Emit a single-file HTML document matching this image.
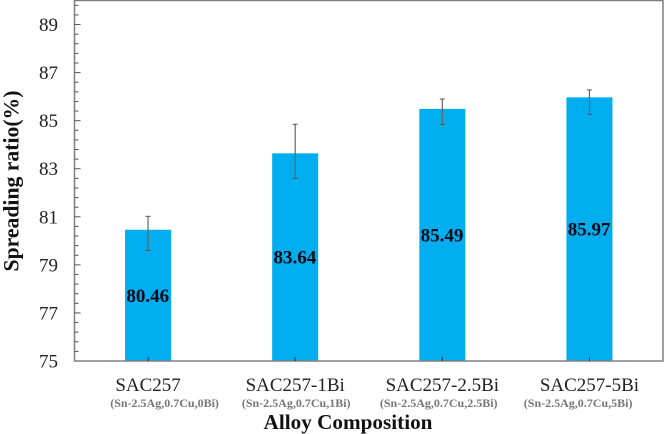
<!DOCTYPE html>
<html>
<head>
<meta charset="utf-8">
<style>
html,body{margin:0;padding:0;background:#fff;width:664px;height:434px;overflow:hidden}
svg{display:block;font-family:"Liberation Serif",serif}
</style>
</head>
<body>
<svg id="chart" width="664" height="434" viewBox="0 0 664 434" xmlns="http://www.w3.org/2000/svg"></svg>
<script>
const categories = ["SAC257", "SAC257-1Bi", "SAC257-2.5Bi", "SAC257-5Bi"];
const compositions = ["(Sn-2.5Ag,0.7Cu,0Bi)", "(Sn-2.5Ag,0.7Cu,1Bi)", "(Sn-2.5Ag,0.7Cu,2.5Bi)", "(Sn-2.5Ag,0.7Cu,5Bi)"];
const values = [80.46, 83.64, 85.49, 85.97];
const valueLabels = ["80.46", "83.64", "85.49", "85.97"];
const errorHigh = [81.02, 84.85, 85.9, 86.28];
const errorLow = [79.6, 82.6, 84.84, 85.27];
const yTickLabels = [75, 77, 79, 81, 83, 85, 87, 89];
const yMin = 75;
const yMax = 90;
const yMinorStep = 0.4;

const L = 74.5, R = 663, T = 0.5, B = 361;
const svg = document.getElementById('chart');
const NS = 'http://www.w3.org/2000/svg';
const yScale = v => B - (v - yMin) / (yMax - yMin) * (B - T);
const band = (R - L) / categories.length;
const xScale = i => L + band * (i + 0.5);
const barW = 46;
const subLabelShift = i => (i === 0 ? 16.5 : i === 1 ? 1 : i === 2 ? -3.6 : -11.3);

function add(tag, attrs, text) {
  const el = document.createElementNS(NS, tag);
  for (const k in attrs) el.setAttribute(k, attrs[k]);
  if (text !== undefined) el.textContent = text;
  svg.appendChild(el);
  return el;
}

categories.forEach((c, i) => {
  const bar = add('rect', {x: xScale(i) - barW / 2, y: yScale(values[i]), width: barW, height: B - yScale(values[i]), fill: '#00aeef'});
  
  
});

const frame = add('rect', {x: L, y: T, width: R - L, height: B - T, fill: 'none', stroke: '#808080', 'stroke-width': 1.5});



const minorCount = Math.round((yMax - yMin) / yMinorStep);
for (let n = 1; n < minorCount; n++) {
  const v = yMin + n * yMinorStep;
  const isMajor = n % 5 === 0;
  const tick = add('line', {x1: L, x2: L + (isMajor ? 6 : 4), y1: yScale(v), y2: yScale(v), stroke: '#555', 'stroke-width': 1});
  
  
}

yTickLabels.forEach(v => {
  const t = add('text', {x: 58, y: yScale(v) + 6.5, 'text-anchor': 'end', 'font-size': 19, fill: '#222'}, String(v));
  
  
});

categories.forEach((c, i) => {
  const x = xScale(i);
  const tick = add('line', {x1: x, x2: x, y1: B, y2: B - 4, stroke: '#333', 'stroke-width': 1});
  
  

  const stem = add('line', {x1: x, x2: x, y1: yScale(errorHigh[i]), y2: yScale(errorLow[i]), stroke: '#666', 'stroke-width': 1.2});
  
  
  [errorHigh[i], errorLow[i]].forEach(e => {
    const cap = add('line', {x1: x - 2.5, x2: x + 2.5, y1: yScale(e), y2: yScale(e), stroke: '#555', 'stroke-width': 1});
    
    
  });

  const val = add('text', {x: x - 0.3, y: (yScale(values[i]) + B) / 2 + 6.5, 'text-anchor': 'middle', 'font-size': 19, 'font-weight': 'bold', fill: '#0a0a14'}, valueLabels[i]);
  
  

  const lab = add('text', {x: x, y: 391, 'text-anchor': 'middle', 'font-size': 19, fill: '#222'}, c);
  
  

  const sub = add('text', {x: x + subLabelShift(i), y: 407, 'text-anchor': 'middle', 'font-size': 12, 'font-weight': 'bold', fill: '#777'}, compositions[i]);
  
  
});

const xTitle = add('text', {x: 348, y: 429, 'text-anchor': 'middle', 'font-size': 21.2, 'font-weight': 'bold', fill: '#111'}, 'Alloy Composition');



const yTitle = add('text', {x: 0, y: 0, transform: 'translate(18.5 181) rotate(-90)', 'text-anchor': 'middle', 'font-size': 21.7, 'font-weight': 'bold', fill: '#111'}, 'Spreading ratio(%)');


</script>
</body>
</html>
